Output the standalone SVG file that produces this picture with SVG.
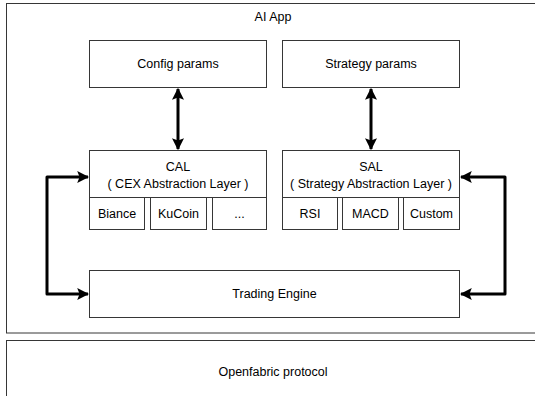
<svg xmlns="http://www.w3.org/2000/svg" width="535" height="396" viewBox="0 0 535 396">
<defs>
<marker id="ah" viewBox="0 0 10 10" refX="9" refY="5" markerWidth="4" markerHeight="4" orient="auto-start-reverse" markerUnits="strokeWidth">
<path d="M0,0 L10,5 L0,10 L2,5 Z" fill="#000"/>
</marker>
<style>
.box{fill:#fff;stroke:#363636;stroke-width:1}
.t{font-family:"Liberation Sans",Arial,sans-serif;font-size:12.5px;fill:#000;text-anchor:middle;dominant-baseline:central}
.c{fill:none;stroke:#000;stroke-width:3;stroke-linejoin:round}
</style>
</defs>
<rect width="535" height="396" fill="#fff"/>
<g id="ai-app">
<rect class="box" x="6.5" y="3.5" width="540" height="329.5"/>
<text class="t" x="273" y="17">AI App</text>
</g>
<g id="openfabric">
<rect class="box" x="6.5" y="340.5" width="540" height="70"/>
<text class="t" x="273" y="372">Openfabric protocol</text>
</g>
<g id="config-params">
<rect class="box" x="89.5" y="40.5" width="177" height="47"/>
<text class="t" x="178" y="64">Config params</text>
</g>
<g id="strategy-params">
<rect class="box" x="282.5" y="40.5" width="177" height="47"/>
<text class="t" x="371" y="64">Strategy params</text>
</g>
<g id="cal">
<rect class="box" x="89.5" y="150.5" width="177" height="47"/>
<text class="t" x="178" y="167">CAL</text>
<text class="t" x="178" y="184">( CEX Abstraction Layer )</text>
</g>
<g id="biance">
<rect class="box" x="89.5" y="197.5" width="55" height="32"/>
<text class="t" x="117" y="214">Biance</text>
</g>
<g id="kucoin">
<rect class="box" x="150.5" y="197.5" width="56" height="32"/>
<text class="t" x="178.5" y="214">KuCoin</text>
</g>
<g id="more">
<rect class="box" x="212.5" y="197.5" width="54" height="32"/>
<text class="t" x="239.5" y="214">...</text>
</g>
<g id="sal">
<rect class="box" x="282.5" y="150.5" width="177" height="47"/>
<text class="t" x="371" y="167">SAL</text>
<text class="t" x="371" y="184">( Strategy Abstraction Layer )</text>
</g>
<g id="rsi">
<rect class="box" x="282.5" y="197.5" width="55" height="32"/>
<text class="t" x="310" y="214">RSI</text>
</g>
<g id="macd">
<rect class="box" x="342.5" y="197.5" width="56" height="32"/>
<text class="t" x="370.5" y="214">MACD</text>
</g>
<g id="custom">
<rect class="box" x="403.5" y="197.5" width="56" height="32"/>
<text class="t" x="431.5" y="214">Custom</text>
</g>
<g id="trading-engine">
<rect class="box" x="89.5" y="270.5" width="370" height="47"/>
<text class="t" x="274.5" y="294">Trading Engine</text>
</g>
<g id="connectors">
<line class="c" x1="178" y1="89" x2="178" y2="149" marker-start="url(#ah)" marker-end="url(#ah)"/>
<line class="c" x1="371" y1="89" x2="371" y2="149" marker-start="url(#ah)" marker-end="url(#ah)"/>
<path class="c" d="M88,177 L47,177 L47,294 L88,294" marker-start="url(#ah)" marker-end="url(#ah)"/>
<path class="c" d="M461,177 L505,177 L505,294 L461,294" marker-start="url(#ah)" marker-end="url(#ah)"/>
</g>
</svg>
